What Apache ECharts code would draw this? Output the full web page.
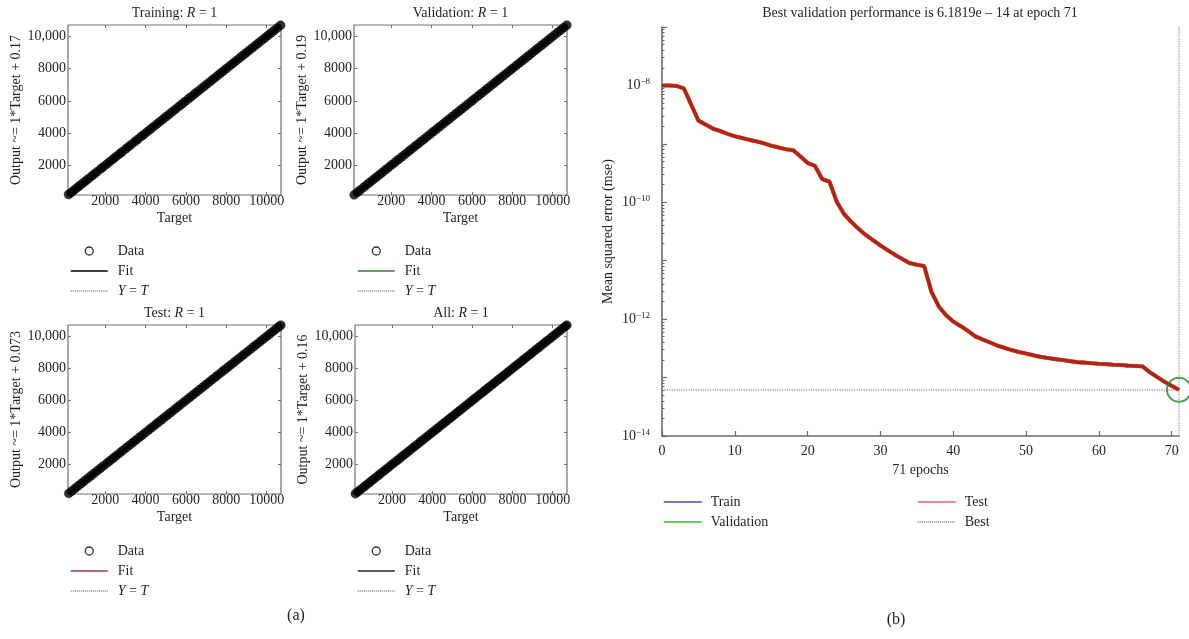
<!DOCTYPE html>
<html><head><meta charset="utf-8">
<script src="https://cdn.jsdelivr.net/npm/echarts@6/dist/echarts.min.js"></script>
<style>html,body{margin:0;padding:0;background:#fff}#c{width:1189px;height:639px}</style>
</head><body><div id="c"></div>
<script>
// ================= DATA =================
// (a) regression panels
const panelNames = ['Training', 'Validation', 'Test', 'All'];
const rValues = [1, 1, 1, 1];
const fitSlopes = [1, 1, 1, 1];
const fitIntercepts = [0.17, 0.19, 0.073, 0.16];
const scatterTicks = [2000, 4000, 6000, 8000, 10000];
const scatterAxisMin = 160;
const scatterAxisMax = 10710;

const trainingTarget = [190, 310, 455, 600, 720, 880, 1020, 1160, 1330, 1470, 1610, 1790, 1920, 2080, 2230, 2390, 2540, 2700, 2830, 3010, 3160, 3300, 3480, 3620, 3790, 3930, 4090, 4240, 4400, 4560, 4710, 4870, 5030, 5180, 5340, 5490, 5660, 5810, 5960, 6130, 6280, 6440, 6590, 6760, 6910, 7070, 7230, 7380, 7540, 7700, 7850, 8010, 8170, 8330, 8480, 8640, 8800, 8950, 9110, 9270, 9430, 9580, 9740, 9900, 10060, 10210, 10370, 10530, 10690];
const trainingOutput = [190, 310, 455, 600, 720, 880, 1020, 1160, 1330, 1470, 1610, 1790, 1920, 2080, 2230, 2390, 2540, 2700, 2830, 3010, 3160, 3300, 3480, 3620, 3790, 3930, 4090, 4240, 4400, 4560, 4710, 4870, 5030, 5180, 5340, 5490, 5660, 5810, 5960, 6130, 6280, 6440, 6590, 6760, 6910, 7070, 7230, 7380, 7540, 7700, 7850, 8010, 8170, 8330, 8480, 8640, 8800, 8950, 9110, 9270, 9430, 9580, 9740, 9900, 10060, 10210, 10370, 10530, 10690];

const validationTarget = [170, 330, 470, 640, 790, 950, 1100, 1260, 1420, 1570, 1740, 1890, 2050, 2210, 2360, 2520, 2680, 2840, 2990, 3150, 3310, 3470, 3620, 3780, 3940, 4100, 4250, 4410, 4570, 4730, 4880, 5040, 5200, 5360, 5510, 5670, 5830, 5990, 6140, 6300, 6460, 6620, 6770, 6930, 7090, 7250, 7400, 7560, 7720, 7880, 8030, 8190, 8350, 8510, 8660, 8820, 8980, 9140, 9290, 9450, 9610, 9770, 9920, 10080, 10240, 10400, 10550, 10700];
const validationOutput = [170, 330, 470, 640, 790, 950, 1100, 1260, 1420, 1570, 1740, 1890, 2050, 2210, 2360, 2520, 2680, 2840, 2990, 3150, 3310, 3470, 3620, 3780, 3940, 4100, 4250, 4410, 4570, 4730, 4880, 5040, 5200, 5360, 5510, 5670, 5830, 5990, 6140, 6300, 6460, 6620, 6770, 6930, 7090, 7250, 7400, 7560, 7720, 7880, 8030, 8190, 8350, 8510, 8660, 8820, 8980, 9140, 9290, 9450, 9610, 9770, 9920, 10080, 10240, 10400, 10550, 10700];

const testTarget = [200, 350, 520, 670, 830, 980, 1150, 1300, 1460, 1620, 1780, 1930, 2100, 2250, 2410, 2570, 2730, 2880, 3040, 3200, 3360, 3510, 3680, 3830, 3990, 4150, 4310, 4460, 4620, 4780, 4940, 5090, 5250, 5410, 5570, 5720, 5880, 6040, 6200, 6350, 6510, 6670, 6830, 6980, 7140, 7300, 7460, 7610, 7770, 7930, 8090, 8240, 8400, 8560, 8720, 8870, 9030, 9190, 9350, 9500, 9660, 9820, 9980, 10130, 10290, 10450, 10600, 10700];
const testOutput = [200, 350, 520, 670, 830, 980, 1150, 1300, 1460, 1620, 1780, 1930, 2100, 2250, 2410, 2570, 2730, 2880, 3040, 3200, 3360, 3510, 3680, 3830, 3990, 4150, 4310, 4460, 4620, 4780, 4940, 5090, 5250, 5410, 5570, 5720, 5880, 6040, 6200, 6350, 6510, 6670, 6830, 6980, 7140, 7300, 7460, 7610, 7770, 7930, 8090, 8240, 8400, 8560, 8720, 8870, 9030, 9190, 9350, 9500, 9660, 9820, 9980, 10130, 10290, 10450, 10600, 10700];

const allTarget = [180, 300, 430, 580, 700, 850, 990, 1120, 1280, 1410, 1560, 1700, 1840, 1990, 2120, 2270, 2410, 2560, 2700, 2840, 2990, 3130, 3270, 3420, 3560, 3710, 3850, 3990, 4140, 4280, 4430, 4570, 4710, 4860, 5000, 5150, 5290, 5430, 5580, 5720, 5870, 6010, 6150, 6300, 6440, 6590, 6730, 6870, 7020, 7160, 7310, 7450, 7590, 7740, 7880, 8030, 8170, 8310, 8460, 8600, 8750, 8890, 9030, 9180, 9320, 9470, 9610, 9750, 9900, 10040, 10190, 10330, 10470, 10620, 10700];
const allOutput = [180, 300, 430, 580, 700, 850, 990, 1120, 1280, 1410, 1560, 1700, 1840, 1990, 2120, 2270, 2410, 2560, 2700, 2840, 2990, 3130, 3270, 3420, 3560, 3710, 3850, 3990, 4140, 4280, 4430, 4570, 4710, 4860, 5000, 5150, 5290, 5430, 5580, 5720, 5870, 6010, 6150, 6300, 6440, 6590, 6730, 6870, 7020, 7160, 7310, 7450, 7590, 7740, 7880, 8030, 8170, 8310, 8460, 8600, 8750, 8890, 9030, 9180, 9320, 9470, 9610, 9750, 9900, 10040, 10190, 10330, 10470, 10620, 10700];

// (b) performance curve
const epochs = [0,1,2,3,4,5,6,7,8,9,10,11,12,13,14,15,16,17,18,19,20,21,22,23,24,25,26,27,28,29,30,31,32,33,34,35,36,37,38,39,40,41,42,43,44,45,46,47,48,49,50,51,52,53,54,55,56,57,58,59,60,61,62,63,64,65,66,67,68,69,70,71];
const testMse = [1.00e-8, 1.00e-8, 0.98e-8, 8.9e-9, 4.7e-9, 2.5e-9, 2.14e-9, 1.82e-9, 1.66e-9, 1.48e-9,
  1.35e-9, 1.26e-9, 1.17e-9, 1.10e-9, 1.02e-9, 9.3e-10, 8.7e-10, 8.1e-10, 7.8e-10, 6.1e-10,
  4.7e-10, 4.2e-10, 2.5e-10, 2.25e-10, 1.02e-10, 6.3e-11, 4.6e-11, 3.5e-11, 2.75e-11, 2.24e-11,
  1.82e-11, 1.51e-11, 1.26e-11, 1.07e-11, 9.1e-12, 8.5e-12, 8.1e-12, 2.95e-12, 1.66e-12, 1.17e-12,
  9.1e-13, 7.6e-13, 6.3e-13, 5.1e-13, 4.5e-13, 4.0e-13, 3.55e-13, 3.24e-13, 2.95e-13, 2.75e-13,
  2.57e-13, 2.40e-13, 2.26e-13, 2.16e-13, 2.07e-13, 2.00e-13, 1.91e-13, 1.84e-13, 1.80e-13, 1.76e-13,
  1.72e-13, 1.70e-13, 1.66e-13, 1.64e-13, 1.60e-13, 1.58e-13, 1.55e-13, 1.23e-13, 1.02e-13, 8.5e-14,
  7.2e-14, 6.1819e-14];
const trainMse = testMse;       // curves coincide in the figure (hidden under Test)
const validationMse = testMse;  // curves coincide in the figure (hidden under Test)
const bestEpoch = 71;
const bestMse = 6.1819e-14;
const mseAxisMin = 1e-14;
const mseAxisMax = 1e-7;
const epochAxisMax = 71;

// ================= LAYOUT / STYLE =================
const F = "'Liberation Serif','Times New Roman',serif";
const TXT = '#231f20';
const BOX = '#707070';
const panelTargets = [trainingTarget, validationTarget, testTarget, allTarget];
const panelOutputs = [trainingOutput, validationOutput, testOutput, allOutput];
const fitColors = ['#000000', '#3a7a3a', '#9a3a48', '#222222'];
const boxes = [
  {left: 68, top: 25, width: 213, height: 170, legendLeft: 70, nameGap: 44},
  {left: 354, top: 25, width: 213, height: 170, legendLeft: 357, nameGap: 43},
  {left: 68, top: 325, width: 213, height: 169, legendLeft: 70, nameGap: 44},
  {left: 355, top: 325, width: 212, height: 169, legendLeft: 357, nameGap: 43}
];
const txt = (size) => ({fontFamily: F, fontSize: size, color: TXT});
const noSym = {opacity: 0};

const grid = [], xAxis = [], yAxis = [], series = [], legend = [], title = [];

boxes.forEach((b, i) => {
  grid.push({left: b.left, top: b.top, width: b.width, height: b.height, show: true,
    borderColor: BOX, borderWidth: 1.2, backgroundColor: 'transparent'});
  const tick = {show: true, inside: true, length: 3, customValues: scatterTicks, lineStyle: {color: BOX, width: 1}};
  xAxis.push({type: 'value', gridIndex: i, min: scatterAxisMin, max: scatterAxisMax, position: 'bottom',
    name: 'Target', nameLocation: 'middle', nameGap: 16, nameTextStyle: txt(14),
    axisLine: {show: false}, axisTick: tick, splitLine: {show: false},
    axisLabel: Object.assign({customValues: scatterTicks, margin: -1, formatter: v => String(v)}, txt(14))});
  xAxis.push({type: 'value', gridIndex: i, min: scatterAxisMin, max: scatterAxisMax, position: 'top',
    axisLine: {show: false}, axisTick: tick, axisLabel: {show: false}, splitLine: {show: false}});
  const eq = 'Output ~= ' + fitSlopes[i] + '*Target + ' + fitIntercepts[i];
  yAxis.push({type: 'value', gridIndex: i, min: scatterAxisMin, max: scatterAxisMax, position: 'left',
    name: eq, nameLocation: 'middle', nameGap: b.nameGap, nameTextStyle: txt(14),
    axisLine: {show: false}, axisTick: tick, splitLine: {show: false},
    axisLabel: Object.assign({customValues: scatterTicks, margin: 2,
      formatter: v => v >= 10000 ? '10,000' : String(v)}, txt(14))});
  yAxis.push({type: 'value', gridIndex: i, min: scatterAxisMin, max: scatterAxisMax, position: 'right',
    axisLine: {show: false}, axisTick: tick, axisLabel: {show: false}, splitLine: {show: false}});

  const t = panelTargets[i], o = panelOutputs[i];
  const lo = Math.min(...t), hi = Math.max(...t);
  series.push({type: 'line', name: 'Y = T', xAxisIndex: 2 * i, yAxisIndex: 2 * i, silent: true,
    data: [[lo, lo], [hi, hi]], symbol: 'none', lineStyle: {type: 'dotted', color: '#555', width: 1}, z: 1});
  series.push({type: 'line', name: 'Fit', xAxisIndex: 2 * i, yAxisIndex: 2 * i, silent: true,
    data: [[lo, fitSlopes[i] * lo + fitIntercepts[i]], [hi, fitSlopes[i] * hi + fitIntercepts[i]]],
    symbol: 'none', lineStyle: {color: fitColors[i], width: 1.5}, z: 2});
  series.push({type: 'scatter', name: 'Data', xAxisIndex: 2 * i, yAxisIndex: 2 * i, silent: true,
    data: t.map((v, k) => [v, o[k]]), symbol: 'circle', symbolSize: 9, clip: false,
    itemStyle: {color: '#000', borderColor: '#000', borderWidth: 0.5}, z: 3});

  title.push({text: panelNames[i] + ': {i|R} = ' + rValues[i], left: b.left + b.width / 2, textAlign: 'center',
    top: b.top - 19, padding: 0,
    textStyle: Object.assign({fontWeight: 'normal', rich: {i: Object.assign({fontStyle: 'italic'}, txt(14))}}, txt(14))});

  legend.push({orient: 'vertical', left: b.legendLeft, top: b.top + 218, padding: 0, itemGap: 4,
    itemWidth: 37, itemHeight: 8, selectedMode: false,
    textStyle: Object.assign({lineHeight: 16, padding: [0, 0, 0, 5],
      rich: {i: Object.assign({fontStyle: 'italic'}, txt(14))}}, txt(14)),
    formatter: n => n === 'Y = T' ? '{i|Y} = {i|T}' : n,
    data: [
      {name: 'Data', icon: 'circle', itemStyle: {color: '#fff', borderColor: '#000', borderWidth: 1.3}},
      {name: 'Fit', itemStyle: noSym, lineStyle: {color: fitColors[i], width: 1.5, type: 'solid'}},
      {name: 'Y = T', itemStyle: noSym, lineStyle: {color: '#444', width: 1, type: 'dotted'}}
    ]});
});

// ---- (b) performance ----
const gi = 4, xi = 8, yi = 8;
grid.push({left: 662, top: 27, width: 517, height: 409, show: false});
xAxis.push({type: 'value', gridIndex: gi, min: 0, max: epochAxisMax, interval: 10,
  name: bestEpoch + ' epochs', nameLocation: 'middle', nameGap: 27, nameTextStyle: txt(14),
  axisLine: {show: true, lineStyle: {color: '#6a6a6a', width: 1.6}},
  axisTick: {show: true, inside: true, length: 5, lineStyle: {color: '#6a6a6a', width: 1.2}},
  axisLabel: Object.assign({showMaxLabel: false, margin: 8}, txt(14)), splitLine: {show: false}});
yAxis.push({type: 'log', logBase: 10, gridIndex: gi, min: mseAxisMin, max: mseAxisMax, position: 'left',
  name: 'Mean squared error (mse)', nameLocation: 'middle', nameGap: 47, nameTextStyle: txt(14),
  axisLine: {show: true, lineStyle: {color: '#6a6a6a', width: 1.6}},
  axisTick: {show: true, inside: true, length: 5, lineStyle: {color: '#6a6a6a', width: 1.2}},
  splitLine: {show: false},
  axisLabel: {margin: 12, formatter: v => {
      const e = Math.round(Math.log10(v));
      if (e % 2 !== 0) return '';
      return '{b|10}{s|\u2212' + (-e) + '}';
    },
    rich: {b: Object.assign({lineHeight: 16}, txt(14)), s: Object.assign({verticalAlign: 'top', lineHeight: 10}, txt(9))}}});
// minor log ticks (2..9 x 10^d) on an overlaid exponent axis, decoration only
const minorExp = [];
for (let d = -14; d < -7; d++) for (let m = 2; m <= 9; m++) minorExp.push(d + Math.log10(m));
yAxis.push({type: 'value', gridIndex: gi, min: -14, max: -7, position: 'left',
  axisLine: {show: false}, axisLabel: {show: false}, splitLine: {show: false},
  axisTick: {show: true, inside: true, length: 2.5, customValues: minorExp, lineStyle: {color: '#6a6a6a', width: 1}}});

const pts = arr => epochs.map((e, k) => [e, arr[k]]);
series.push({type: 'line', name: 'Best', xAxisIndex: xi, yAxisIndex: yi, data: [[0, bestMse], [bestEpoch, bestMse]],
  symbol: 'none', silent: true, clip: false, lineStyle: {type: 'dotted', color: '#8a8a8a', width: 1.2}, z: 1});
series.push({type: 'line', name: 'Best', xAxisIndex: xi, yAxisIndex: yi, data: [[bestEpoch, mseAxisMin], [bestEpoch, mseAxisMax]],
  symbol: 'none', silent: true, clip: false, lineStyle: {type: 'dotted', color: '#8a8a8a', width: 1.2}, z: 1});
series.push({type: 'line', name: 'Train', xAxisIndex: xi, yAxisIndex: yi, data: pts(trainMse),
  symbol: 'none', silent: true, clip: false, lineStyle: {color: '#3f3fa0', width: 3.6}, z: 2});
series.push({type: 'line', name: 'Validation', xAxisIndex: xi, yAxisIndex: yi, data: pts(validationMse),
  symbol: 'none', silent: true, clip: false, lineStyle: {color: '#c8b020', width: 4.2}, z: 3});
series.push({type: 'line', name: 'Test', xAxisIndex: xi, yAxisIndex: yi, data: pts(testMse),
  symbol: 'none', silent: true, clip: false, lineStyle: {color: '#b81e1e', width: 3.6}, z: 4});
series.push({type: 'scatter', name: 'bestPoint', xAxisIndex: xi, yAxisIndex: yi, data: [[bestEpoch, bestMse]],
  symbol: 'circle', symbolSize: 24, silent: true, clip: false,
  itemStyle: {color: 'rgba(0,0,0,0)', borderColor: '#1f8a2e', borderWidth: 2}, z: 5});

const rl = (left, items) => ({orient: 'vertical', left: left, top: 494, padding: 0, itemGap: 4,
  itemWidth: 38, itemHeight: 8, selectedMode: false,
  textStyle: Object.assign({lineHeight: 16, padding: [0, 0, 0, 4]}, txt(14)), data: items});
legend.push(rl(663, [
  {name: 'Train', itemStyle: noSym, lineStyle: {color: '#4b4ba6', width: 1.5, type: 'solid'}},
  {name: 'Validation', itemStyle: noSym, lineStyle: {color: '#2fbf2f', width: 1.5, type: 'solid'}}]));
legend.push(rl(917, [
  {name: 'Test', itemStyle: noSym, lineStyle: {color: '#e06464', width: 1.5, type: 'solid'}},
  {name: 'Best', itemStyle: noSym, lineStyle: {color: '#333', width: 1, type: 'dotted'}}]));

title.push({text: 'Best validation performance is 6.1819e \u2013 14 at epoch ' + bestEpoch,
  left: 920, textAlign: 'center', top: 6, padding: 0, textStyle: Object.assign({fontWeight: 'normal'}, txt(14))});
title.push({text: '(a)', left: 296, textAlign: 'center', top: 608, padding: 0, textStyle: Object.assign({fontWeight: 'normal'}, txt(16))});
title.push({text: '(b)', left: 896, textAlign: 'center', top: 612, padding: 0, textStyle: Object.assign({fontWeight: 'normal'}, txt(16))});

const chart = echarts.init(document.getElementById('c'), null, {renderer: 'canvas'});
chart.setOption({backgroundColor: '#fff', animation: false, title, grid, xAxis, yAxis, series, legend});
</script>
</body></html>
